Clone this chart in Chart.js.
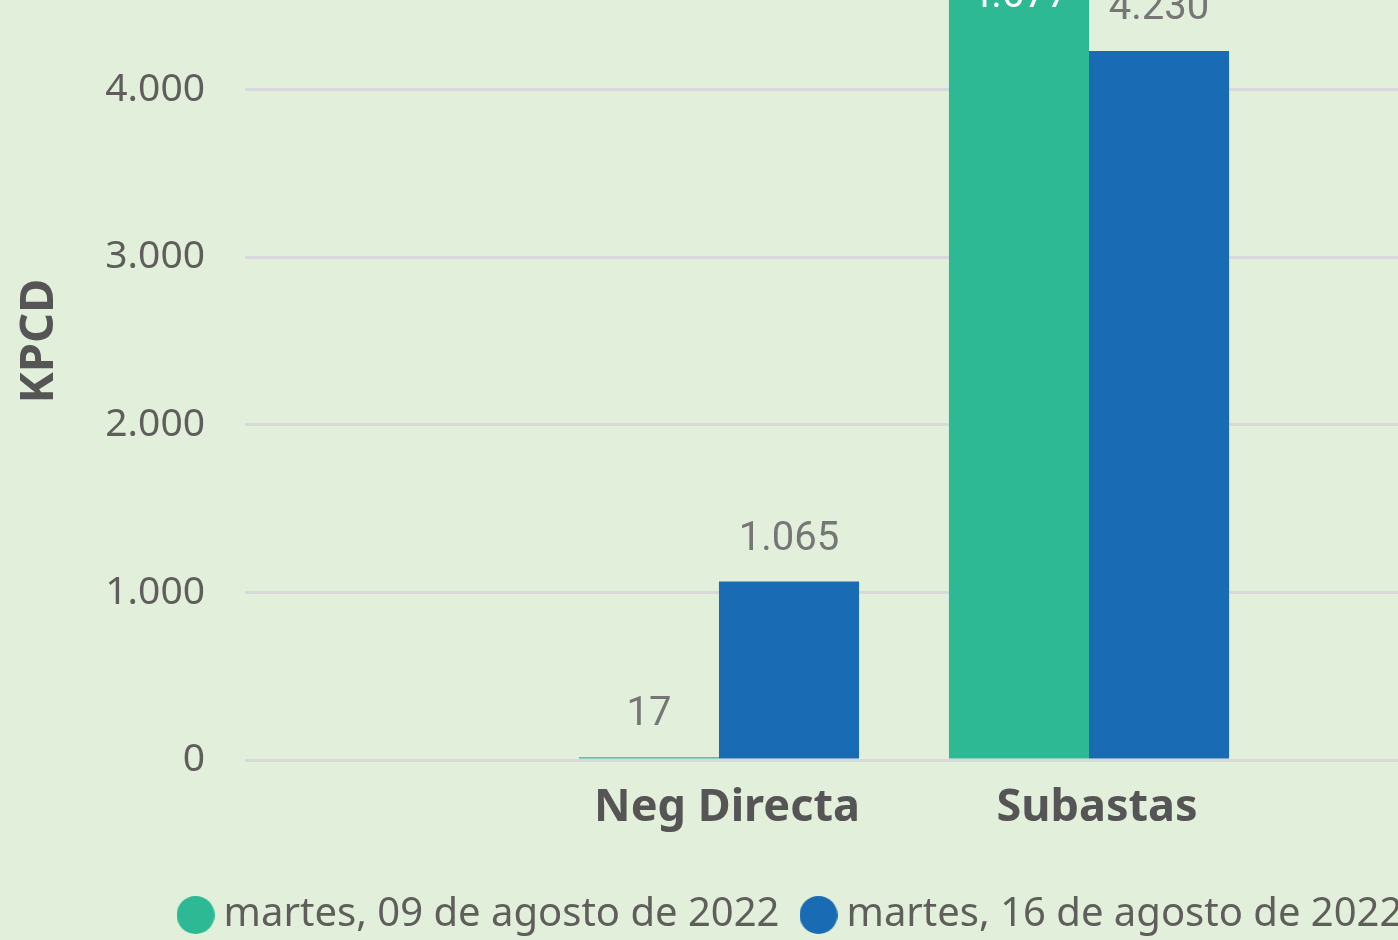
<!DOCTYPE html>
<html>
<head>
<meta charset="utf-8">
<title>KPCD</title>
<script src="https://cdn.jsdelivr.net/npm/chart.js@4.4.1/dist/chart.umd.min.js"></script>
<style>
  html, body { margin: 0; padding: 0; background: #e2efda; overflow: hidden; width: 1398px; height: 940px; }
  #wrap { position: absolute; left: 0; top: -120px; width: 1590px; height: 1100px; }
</style>
</head>
<body>
<div id="wrap"><canvas id="kpcd"></canvas></div>
<script>
// categories and series (values in KPCD)
const categories = ['Neg Directa', 'Subastas'];
const seriesNames = ['martes, 09 de agosto de 2022', 'martes, 16 de agosto de 2022'];
const values0908 = [17, 4677];
const values1608 = [1065, 4230];
const yTicks = [0, 1000, 2000, 3000, 4000, 5000];

const GREEN = '#2db994';
const BLUE = '#196bb4';
const TEXT = '#605e5c';

const fmt = v => String(v).replace(/\B(?=(\d{3})+(?!\d))/g, '.');
const toPoints = vals => vals.map((v, i) => ({ x: i + 1, y: v }));

// round legend marker
function dot(color) {
  const c = document.createElement('canvas');
  c.width = 38; c.height = 38;
  const g = c.getContext('2d');
  g.fillStyle = color;
  g.beginPath();
  g.arc(19, 19, 19, 0, Math.PI * 2);
  g.fill();
  return c;
}

// value labels: above the bar, or inside (white) when there is no room at the top
const valueLabels = {
  id: 'valueLabels',
  afterDatasetsDraw(chart) {
    const ctx = chart.ctx;
    const top = chart.chartArea.top;
    ctx.save();
    ctx.font = '40px Roboto, sans-serif';
    ctx.textAlign = 'center';
    ctx.textBaseline = 'alphabetic';
    chart.data.datasets.forEach((ds, di) => {
      chart.getDatasetMeta(di).data.forEach((bar, i) => {
        const txt = fmt(ds.data[i].y);
        if (bar.y - 64 < top) {
          ctx.fillStyle = '#ffffff';
          ctx.fillText(txt, bar.x, bar.y + 31);
        } else {
          ctx.fillStyle = '#767676';
          ctx.fillText(txt, bar.x, bar.y - 32);
        }
      });
    });
    ctx.restore();
  }
};

new Chart(document.getElementById('kpcd'), {
  type: 'bar',
  data: {
    datasets: [
      { label: seriesNames[0], data: toPoints(values0908), backgroundColor: GREEN, pointStyle: dot(GREEN) },
      { label: seriesNames[1], data: toPoints(values1608), backgroundColor: BLUE, pointStyle: dot(BLUE) },
    ],
  },
  options: {
    responsive: true,
    maintainAspectRatio: false,
    animation: false,
    categoryPercentage: 0.757,
    barPercentage: 1,
    layout: { padding: { top: 42, bottom: 35, left: 0, right: 0 } },
    scales: {
      x: {
        type: 'linear',
        offset: false,
        min: -0.281,
        max: 3.354,
        grid: { display: false },
        border: { display: false },
        afterBuildTicks: s => { s.ticks = categories.map((c, i) => ({ value: i + 1 })); },
        afterFit: s => { s.height = 104; },
        ticks: {
          padding: 13,
          labelOffset: 8,
          autoSkip: false,
          maxRotation: 0,
          color: '#555555',
          font: { family: '"Noto Sans", sans-serif', size: 45, weight: 'bold' },
          callback: v => categories[v - 1] || '',
        },
      },
      y: {
        min: 0,
        max: 5000,
        afterBuildTicks: s => { s.ticks = yTicks.map(v => ({ value: v })); },
        afterFit: s => { s.width = 245; s.paddingTop = 0; s.paddingBottom = 0; },
        grid: { color: '#d9d9dd', lineWidth: 3, drawTicks: false },
        border: { display: false },
        ticks: {
          padding: 40,
          color: TEXT,
          font: { family: '"Noto Sans", sans-serif', size: 39 },
          callback: v => fmt(v),
        },
        title: {
          display: true,
          text: 'KPCD',
          color: '#555555',
          padding: { top: 11, bottom: 0 },
          font: { family: '"Noto Sans", sans-serif', size: 47, weight: 'bold' },
        },
      },
    },
    plugins: {
      legend: {
        position: 'bottom',
        labels: {
          usePointStyle: true,
          pointStyleWidth: 16,
          boxHeight: 27,
          padding: 31,
          color: TEXT,
          font: { family: '"Noto Sans", sans-serif', size: 40 },
        },
      },
      tooltip: { enabled: false },
    },
  },
  plugins: [valueLabels],
});
</script>
</body>
</html>
